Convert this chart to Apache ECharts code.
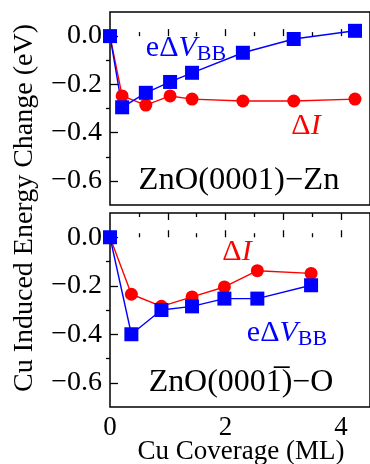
<!DOCTYPE html>
<html><head><meta charset="utf-8">
<script src="https://cdn.jsdelivr.net/npm/echarts@6/dist/echarts.min.js"></script>
<style>html,body{margin:0;padding:0;background:#fff}#c{width:370px;height:464px}</style>
</head><body><div id="c"></div>
<script>
// Top panel: ZnO(0001)-Zn
const xZn   = [0, 0.21, 0.62, 1.04, 1.42, 2.30, 3.18, 4.24];
const vbbZn = [0, -0.295, -0.235, -0.19, -0.152, -0.069, -0.012, 0.022];
const dIZn  = [0, -0.248, -0.286, -0.248, -0.261, -0.269, -0.269, -0.261];
// Bottom panel: ZnO(000-1)-O
const xO    = [0, 0.37, 0.89, 1.42, 1.98, 2.55, 3.48];
const vbbO  = [0, -0.40, -0.30, -0.285, -0.253, -0.253, -0.198];
const dIO   = [0, -0.235, -0.285, -0.246, -0.205, -0.138, -0.149];
// ticks
const xLabels = [0, 2, 4];
const xMajor = [1, 2, 3, 4];
const xMinor = [0.5, 1.5, 2.5, 3.5];
const yLabels = [-0.6, -0.4, -0.2, 0];
const yMinor = [-0.5, -0.3, -0.1];

const FONT = '"Liberation Serif", "Times New Roman", serif';
const BLUE = '#0000ff', RED = '#ff0000';
const zip = (a, b) => a.map((v, i) => [v, b[i]]);

const grids = [
  {left: 110, top: 12, width: 272, height: 193, show: true, borderColor: '#000', borderWidth: 1.5},
  {left: 110, top: 213, width: 272, height: 194, show: true, borderColor: '#000', borderWidth: 1.5}
];
function xAx(g, ticks, len, opts) {
  return Object.assign({
    type: 'value', gridIndex: g, min: 0, max: 4.5, position: 'bottom',
    axisLine: {show: false}, splitLine: {show: false},
    axisTick: {show: true, inside: true, length: len, customValues: ticks, lineStyle: {color: '#000', width: 1.3}},
    axisLabel: {show: false}
  }, opts || {});
}
function yAx(g, ticks, len, opts) {
  return Object.assign({
    type: 'value', gridIndex: g, min: -0.7, max: 0.1,
    axisLine: {show: false}, splitLine: {show: false},
    axisTick: {show: true, inside: true, length: len, customValues: ticks, lineStyle: {color: '#000', width: 1.3}},
    axisLabel: {show: false}
  }, opts || {});
}
const xAxes = [
  xAx(0, xMajor, 7), xAx(0, xMinor, 4),
  xAx(1, xMajor, 7, {axisLabel: {show: true, customValues: xLabels, margin: 7, color: '#000', fontSize: 27, fontFamily: FONT}}),
  xAx(1, xMinor, 4),
  xAx(1, xMajor, 7, {position: 'top'}), xAx(1, xMinor, 4, {position: 'top'})
];
const lblY = {show: true, customValues: yLabels, margin: 8, color: '#000', fontSize: 28, fontFamily: FONT,
  formatter: v => (v < 0 ? '\u2212' : '') + Math.abs(v).toFixed(1)};
const yAxes = [
  yAx(0, yLabels, 8, {axisLabel: lblY}), yAx(0, yMinor, 4),
  yAx(1, yLabels, 8, {axisLabel: lblY}), yAx(1, yMinor, 4)
];
function ser(xi, yi, data, color, sym, size) {
  return {type: 'line', xAxisIndex: xi, yAxisIndex: yi, data: data, symbol: sym, symbolSize: size,
    showAllSymbol: true, lineStyle: {color: color, width: 1.4}, itemStyle: {color: color}, animation: false};
}
const series = [
  ser(0, 0, zip(xZn, dIZn), RED, 'circle', 13),
  ser(0, 0, zip(xZn, vbbZn), BLUE, 'rect', 14),
  ser(2, 2, zip(xO, dIO), RED, 'circle', 13),
  ser(2, 2, zip(xO, vbbO), BLUE, 'rect', 14)
];
function t(x, y, text, size, color, extra) {
  return Object.assign({type: 'text', x: x, y: y, z: 100, style: {text: text, fill: color || '#000',
    font: size + 'px ' + FONT, align: 'center', verticalAlign: 'middle'}}, extra || {});
}
function vbb(x, y) {
  return {type: 'text', x: x, y: y, z: 100, style: {
    text: '{a|e\u0394}{v|V}{s|BB}', align: 'center', verticalAlign: 'middle', fill: BLUE,
    rich: {
      a: {fontSize: 30, fontFamily: FONT, fill: BLUE, color: BLUE},
      v: {fontSize: 30, fontFamily: FONT, fontStyle: 'italic', fill: BLUE, color: BLUE},
      s: {fontSize: 22, fontFamily: FONT, fill: BLUE, color: BLUE, verticalAlign: 'bottom', padding: [12, 0, 0, 0]}
    }}};
}
function dI(x, y) {
  return {type: 'text', x: x, y: y, z: 100, style: {
    text: '{a|\u0394}{v|I}', align: 'center', verticalAlign: 'middle',
    rich: {
      a: {fontSize: 30, fontFamily: FONT, fill: RED, color: RED},
      v: {fontSize: 30, fontFamily: FONT, fontStyle: 'italic', fill: RED, color: RED}
    }}};
}
const graphic = [
  t(25, 208, 'Cu Induced Energy Change (eV)', 28, '#000', {rotation: Math.PI / 2}),
  t(241, 452, 'Cu Coverage (ML)', 27, '#000'),
  t(239, 181, 'ZnO(0001)\u2212Zn', 31, '#000', {scaleX: 1.05}),
  t(241, 383, 'ZnO(0001\u0305)\u2212O', 31, '#000', {scaleX: 1.03}),
  vbb(186, 48), dI(306, 126), dI(237, 252), vbb(287, 333)
];
const chart = echarts.init(document.getElementById('c'), null, {renderer: 'canvas'});
chart.setOption({animation: false, grid: grids, xAxis: xAxes, yAxis: yAxes, series: series, graphic: graphic});
</script></body></html>
